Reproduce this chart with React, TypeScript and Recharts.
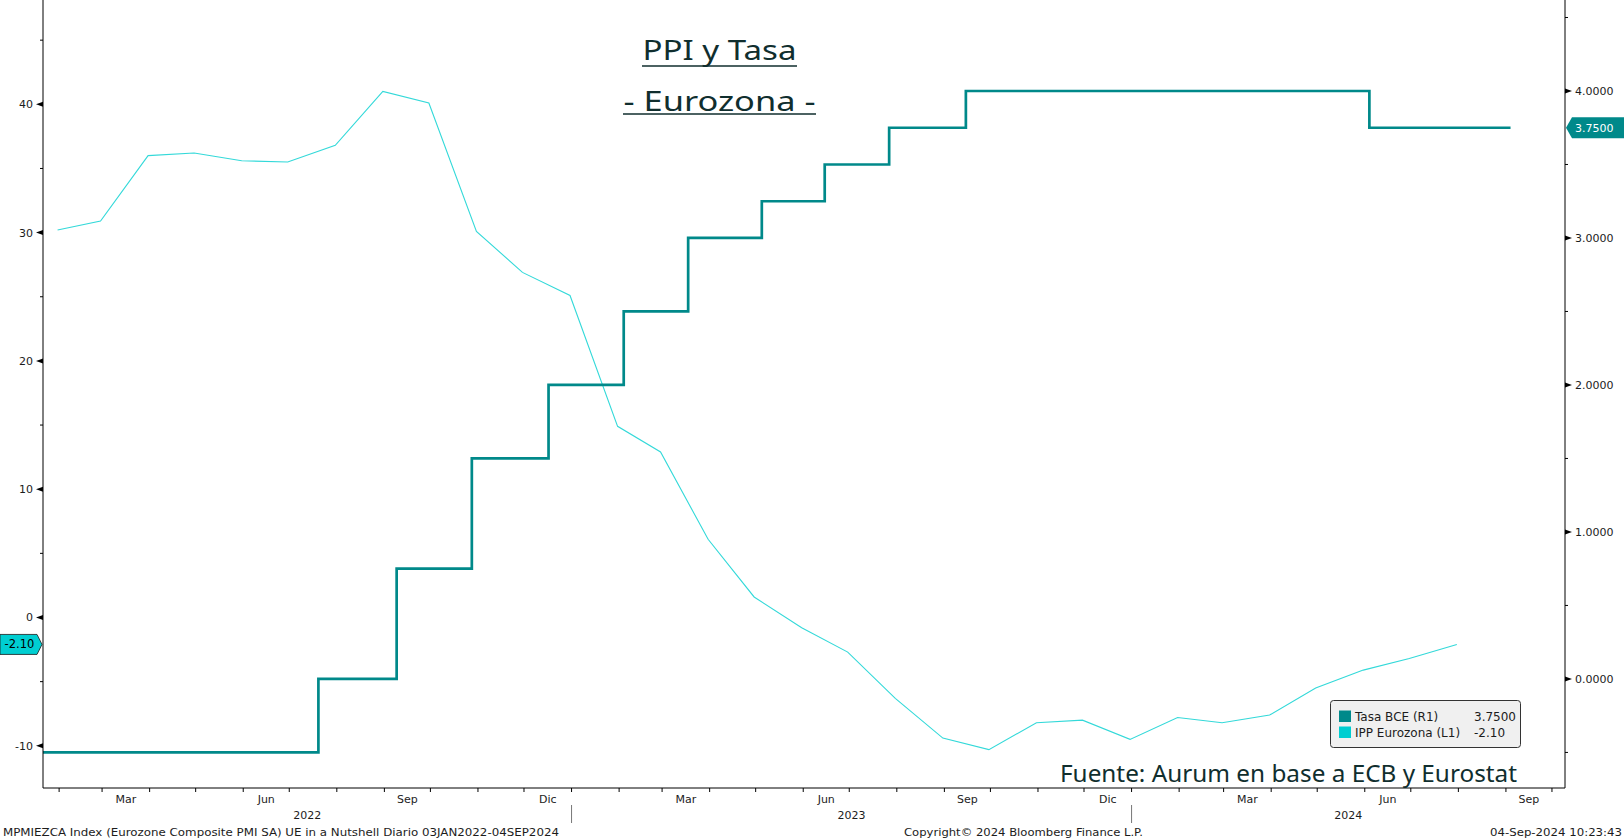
import React from 'react';
import { ComposedChart, Line, XAxis, YAxis } from 'recharts';

// ---------- DATA ----------
// ECB deposit rate (Tasa BCE), step changes
const rateDates = [
  '2022-01-21', '2022-07-20', '2022-09-09', '2022-10-28', '2022-12-17',
  '2023-02-04', '2023-03-18', '2023-05-05', '2023-06-15', '2023-07-27',
  '2023-09-15', '2024-06-04', '2024-09-04',
];
const rateValues = [-0.5, 0.0, 0.75, 1.5, 2.0, 2.5, 3.0, 3.25, 3.5, 3.75, 4.0, 3.75, 3.75];

// Eurozone PPI YoY (IPP Eurozona), monthly
const ppiDates = [
  '2022-01-31', '2022-02-28', '2022-03-31', '2022-04-30', '2022-05-31', '2022-06-30',
  '2022-07-31', '2022-08-31', '2022-09-30', '2022-10-31', '2022-11-30', '2022-12-31',
  '2023-01-31', '2023-02-28', '2023-03-31', '2023-04-30', '2023-05-31', '2023-06-30',
  '2023-07-31', '2023-08-31', '2023-09-30', '2023-10-31', '2023-11-30', '2023-12-31',
  '2024-01-31', '2024-02-29', '2024-03-31', '2024-04-30', '2024-05-31', '2024-06-30',
  '2024-07-31',
];
const ppiValues = [
  30.2, 30.9, 36.0, 36.2, 35.6, 35.5, 36.8, 41.0, 40.1, 30.1, 26.9, 25.1,
  14.9, 12.9, 6.1, 1.6, -0.8, -2.7, -6.3, -9.4, -10.3, -8.2, -8.0, -9.5,
  -7.8, -8.2, -7.6, -5.5, -4.1, -3.2, -2.1,
];

// Axis ticks / labels
const leftTicks = [-10, -5, 0, 5, 10, 15, 20, 25, 30, 35, 40, 45];
const rightTicks = [-0.5, 0, 0.5, 1, 1.5, 2, 2.5, 3, 3.5, 4, 4.5];
const monthLabelNames = ['Mar', 'Jun', 'Sep', 'Dic'];
const monthLabelIndex = [2, 5, 8, 11];
const yearLabels = ['2022', '2023', '2024'];

const titleLine1 = 'PPI y Tasa';
const titleLine2 = '- Eurozona -';
const sourceText = 'Fuente: Aurum en base a ECB y Eurostat';
const footerLeft = 'MPMIEZCA Index (Eurozone Composite PMI SA) UE in a Nutshell  Diario 03JAN2022-04SEP2024';
const footerMid = 'Copyright\u00A9 2024 Bloomberg Finance L.P.';
const footerRight = '04-Sep-2024 10:23:43';
const legendNames = ['Tasa BCE (R1)', 'IPP Eurozona (L1)'];

// ---------- helpers ----------
const DAY = 86400000;
const BASE = Date.UTC(2022, 0, 1);
const toDay = (s: string) => {
  const [y, m, d] = s.split('-').map(Number);
  return (Date.UTC(y, m - 1, d) - BASE) / DAY;
};

const X_MIN = toDay('2022-01-21') + 0.5;
const X_MAX = toDay('2024-10-09') + 0.5;
const L_DOMAIN: [number, number] = [-13.29, 48.13];
const R_DOMAIN: [number, number] = [-0.742, 4.619];

const rateData = rateDates.map((d, i) => ({ d: toDay(d), v: rateValues[i] }));
const ppiData = ppiDates.map((d, i) => ({ d: toDay(d), v: ppiValues[i] }));

const lastRate = rateValues[rateValues.length - 1];
const lastPpi = ppiValues[ppiValues.length - 1];

// x ticks: month boundaries, month-label centres, year-label centres
type XInfo = { kind: 'm' | 'ml' | 'y'; label?: string; yearStart?: boolean };
const xInfo = new Map<number, XInfo>();
for (let y = 2022; y <= 2024; y++) {
  for (let m = 0; m < 12; m++) {
    const d = (Date.UTC(y, m, 1) - BASE) / DAY;
    const next = (Date.UTC(y, m + 1, 1) - BASE) / DAY;
    if (d > X_MIN && d < X_MAX) {
      xInfo.set(d, { kind: 'm', yearStart: m === 0 });
    }
    const li = monthLabelIndex.indexOf(m);
    if (li >= 0 && d >= X_MIN && next <= X_MAX) {
      xInfo.set((d + next) / 2, { kind: 'ml', label: monthLabelNames[li] });
    }
  }
}
yearLabels.forEach((lab) => {
  const yr = Number(lab);
  const s = Math.max(X_MIN, (Date.UTC(yr, 0, 1) - BASE) / DAY);
  const e = Math.min(X_MAX, (Date.UTC(yr + 1, 0, 1) - BASE) / DAY);
  xInfo.set((s + e) / 2, { kind: 'y', label: lab });
});
const xTicks = Array.from(xInfo.keys()).sort((a, b) => a - b);

const FONT = "'DejaVu Sans', Verdana, sans-serif";
const TXT = '#1c1c1c';
const RATE_COLOR = '#00898A';
const PPI_COLOR = '#33D9D9';
const BADGE_CYAN = '#00CED1';

const XTick = (props: any) => {
  const { x, y, payload } = props;
  const info = xInfo.get(payload.value);
  if (!info) return <g />;
  if (info.kind === 'm') {
    return (
      <g>
        <line x1={x} x2={x} y1={y} y2={y + 4} stroke="#000" strokeWidth={1} />
        {info.yearStart ? (
          <line x1={x} x2={x} y1={y + 17} y2={y + 35} stroke="#777" strokeWidth={1} />
        ) : null}
      </g>
    );
  }
  if (info.kind === 'ml') {
    return (
      <text x={x} y={y + 15} textAnchor="middle" fontFamily={FONT} fontSize={11} fill={TXT}>
        {info.label}
      </text>
    );
  }
  return (
    <text x={x} y={y + 31} textAnchor="middle" fontFamily={FONT} fontSize={11} fill={TXT}>
      {info.label}
    </text>
  );
};

const LeftTick = (props: any) => {
  const { x, y, payload } = props;
  const v = payload.value;
  if (v === lastPpi) {
    return (
      <g>
        <polygon
          points={`0,${y - 10} ${x - 6},${y - 10} ${x - 1},${y} ${x - 6},${y + 10} 0,${y + 10}`}
          fill={BADGE_CYAN}
          stroke="#1a1a1a"
          strokeWidth={0.8}
        />
        <text x={(x - 6) / 2 + 1} y={y + 4} textAnchor="middle" fontFamily={FONT} fontSize={11.5} fill="#000">
          {lastPpi.toFixed(2)}
        </text>
      </g>
    );
  }
  if (Math.abs(v % 10) < 1e-9) {
    return (
      <g>
        <polygon points={`${x},${y - 2.5} ${x},${y + 2.5} ${x - 7},${y}`} fill="#000" />
        <text x={x - 10} y={y + 4} textAnchor="end" fontFamily={FONT} fontSize={11} fill={TXT}>
          {v}
        </text>
      </g>
    );
  }
  return <line x1={x - 3} x2={x} y1={y} y2={y} stroke="#000" strokeWidth={1} />;
};

const RightTick = (props: any) => {
  const { x, y, payload } = props;
  const v = payload.value;
  if (v === lastRate && !rightTicks.includes(v)) {
    return (
      <g>
        <polygon
          points={`${x + 1},${y} ${x + 7},${y - 10.5} 1624,${y - 10.5} 1624,${y + 10.5} ${x + 7},${y + 10.5}`}
          fill={RATE_COLOR}
        />
        <text x={x + 10} y={y + 4} fontFamily={FONT} fontSize={11} fill="#fff">
          {lastRate.toFixed(4)}
        </text>
      </g>
    );
  }
  if (Math.abs(v % 1) < 1e-9) {
    return (
      <g>
        <polygon points={`${x},${y - 2.5} ${x},${y + 2.5} ${x + 7},${y}`} fill="#000" />
        <text x={x + 10} y={y + 4} fontFamily={FONT} fontSize={11} fill={TXT}>
          {v.toFixed(4)}
        </text>
      </g>
    );
  }
  return <line x1={x} x2={x + 3} y1={y} y2={y} stroke="#000" strokeWidth={1} />;
};

export default function App() {
  return (
    <div style={{ position: 'absolute', left: 0, top: 0, width: 1624, height: 840, background: '#fff', overflow: 'hidden' }}>
      <ComposedChart width={1624} height={840} margin={{ top: 0, right: 0, bottom: 0, left: 0 }}>
        <XAxis
          type="number"
          dataKey="d"
          domain={[X_MIN, X_MAX]}
          allowDataOverflow
          ticks={xTicks}
          interval={0}
          tick={(p: any) => <XTick {...p} />}
          tickLine={false}
          tickSize={0}
          tickMargin={0}
          height={52}
          axisLine={{ stroke: '#000', strokeWidth: 1 }}
        />
        <YAxis
          yAxisId="L"
          orientation="left"
          type="number"
          domain={L_DOMAIN}
          allowDataOverflow
          ticks={[...leftTicks, lastPpi]}
          interval={0}
          tick={(p: any) => <LeftTick {...p} />}
          tickLine={false}
          tickSize={0}
          tickMargin={0}
          width={43}
          axisLine={{ stroke: '#000', strokeWidth: 1 }}
        />
        <YAxis
          yAxisId="R"
          orientation="right"
          type="number"
          domain={R_DOMAIN}
          allowDataOverflow
          ticks={[...rightTicks, lastRate]}
          interval={0}
          tick={(p: any) => <RightTick {...p} />}
          tickLine={false}
          tickSize={0}
          tickMargin={0}
          width={59}
          axisLine={{ stroke: '#000', strokeWidth: 1 }}
        />
        <Line
          yAxisId="L"
          data={ppiData}
          dataKey="v"
          type="linear"
          stroke={PPI_COLOR}
          strokeWidth={1.1}
          dot={false}
          isAnimationActive={false}
        />
        <Line
          yAxisId="R"
          data={rateData}
          dataKey="v"
          type="stepAfter"
          stroke={RATE_COLOR}
          strokeWidth={2.7}
          dot={false}
          isAnimationActive={false}
        />
      </ComposedChart>
      <svg
        width={1624}
        height={840}
        style={{ position: 'absolute', left: 0, top: 0, pointerEvents: 'none' }}
      >
        {/* Title */}
        <text x={719.5} y={59.5} textAnchor="middle" fontFamily="'Noto Sans', sans-serif" fontSize={27} fill="#102e2e" textLength={154} lengthAdjust="spacingAndGlyphs">
          {titleLine1}
        </text>
        <line x1={642} x2={797} y1={66} y2={66} stroke="#102e2e" strokeWidth={1.6} />
        <text x={719.5} y={110.5} textAnchor="middle" fontFamily="'Noto Sans', sans-serif" fontSize={27} fill="#102e2e" textLength={192} lengthAdjust="spacingAndGlyphs">
          {titleLine2}
        </text>
        <line x1={623} x2={816} y1={114} y2={114} stroke="#102e2e" strokeWidth={1.6} />

        {/* Source */}
        <text x={1517} y={781.5} textAnchor="end" fontFamily="'Noto Sans', sans-serif" fontSize={24} fill="#102e2e" textLength={457} lengthAdjust="spacingAndGlyphs">
          {sourceText}
        </text>

        {/* Legend */}
        <rect x={1330.5} y={700.5} width={190} height={47} rx={3} ry={3} fill="#f0f0f0" stroke="#333" strokeWidth={1} />
        <rect x={1339} y={710.5} width={12} height={11.5} fill={RATE_COLOR} />
        <rect x={1339} y={726.5} width={12} height={11.5} fill={BADGE_CYAN} />
        <text x={1355} y={721} fontFamily={FONT} fontSize={12} fill={TXT}>{legendNames[0]}</text>
        <text x={1474} y={721} fontFamily={FONT} fontSize={12} fill={TXT}>{lastRate.toFixed(4)}</text>
        <text x={1355} y={737} fontFamily={FONT} fontSize={12} fill={TXT}>{legendNames[1]}</text>
        <text x={1474} y={737} fontFamily={FONT} fontSize={12} fill={TXT}>{lastPpi.toFixed(2)}</text>

        {/* Footer */}
        <text x={3} y={835.5} fontFamily={FONT} fontSize={11} fill={TXT} textLength={556} lengthAdjust="spacingAndGlyphs">
          {footerLeft}
        </text>
        <text x={904} y={835.5} fontFamily={FONT} fontSize={11} fill={TXT} textLength={239} lengthAdjust="spacingAndGlyphs">
          {footerMid}
        </text>
        <text x={1490} y={835.5} fontFamily={FONT} fontSize={11} fill={TXT} textLength={132} lengthAdjust="spacingAndGlyphs">
          {footerRight}
        </text>
      </svg>
    </div>
  );
}
